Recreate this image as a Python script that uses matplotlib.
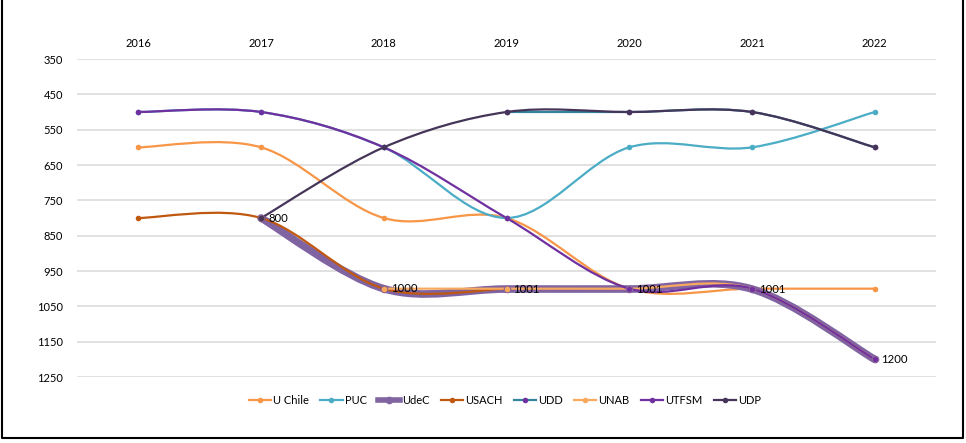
import numpy as np
import matplotlib
matplotlib.use('Agg')
import matplotlib.pyplot as plt
from matplotlib.path import Path
from matplotlib.patches import PathPatch
from matplotlib.lines import Line2D

plt.rcParams['font.family'] = ['Lato', 'DejaVu Sans']

years = [2016, 2017, 2018, 2019, 2020, 2021, 2022]
nan = np.nan

# ranking values (lower = better, axis inverted)
u_chile = [600, 600, 800, 800, 1000, 1000, 1000]
puc     = [500, 500, 600, 800, 600, 600, 500]
udec    = [nan, 800, 1000, 1001, 1001, 1001, 1200]
usach   = [800, 800, 1000, 1000, nan, nan, nan]
udd     = [nan, nan, nan, 500, 500, 500, 600]
unab    = [nan, nan, 1000, 1000, 1000, 1000, 1200]
utfsm   = [500, 500, 600, 800, 1000, 1000, 1200]
udp     = [nan, 800, 600, 500, 500, 500, 600]

udec_labels = ['800', '1000', '1001', '1001', '1001', '1200']

# name, values, line colour, marker colour, line width
series = [
    ('U Chile', u_chile, '#F79646', '#F79646', 1.6),
    ('PUC',     puc,     '#4BACC6', '#4BACC6', 1.6),
    ('UdeC',    udec,    '#8064A2', '#8064A2', 5.5),
    ('USACH',   usach,   '#C0580F', '#C0580F', 1.6),
    ('UDD',     udd,     '#31859C', '#7030A0', 1.6),
    ('UNAB',    unab,    '#F9A95E', '#F9A95E', 1.6),
    ('UTFSM',   utfsm,   '#7030A0', '#7030A0', 1.6),
    ('UDP',     udp,     '#453659', '#453659', 1.6),
]


def smooth_path(xs, ys):
    # excel-like smoothed line: cubic bezier through the points
    pts = [np.array([x, y], float) for x, y in zip(xs, ys) if not np.isnan(y)]
    n = len(pts)
    verts = [pts[0]]
    codes = [Path.MOVETO]
    for i in range(n - 1):
        p0 = pts[i - 1] if i > 0 else pts[i]
        p1 = pts[i]
        p2 = pts[i + 1]
        p3 = pts[i + 2] if i + 2 < n else pts[i + 1]
        verts += [p1 + (p2 - p0) / 6, p2 - (p3 - p1) / 6, p2]
        codes += [Path.CURVE4] * 3
    return Path(verts, codes)


fig = plt.figure(figsize=(9.66, 4.43), dpi=100)
ax = fig.add_axes([77/966, 1 - 377/443, (936 - 77)/966, (377 - 59)/443])

handles = []
for name, vals, col, mcol, lw in series:
    vals = np.array(vals, float)
    ax.add_patch(PathPatch(smooth_path(years, vals), fill=False, edgecolor=col,
                           lw=lw, capstyle='round', joinstyle='round', zorder=3))
    ms = 5.5 if lw > 3 else 4
    ax.plot(years, vals, 'o', color=mcol, markersize=ms, markeredgewidth=0, zorder=4)
    handles.append(Line2D([], [], color=col, lw=min(lw, 4), marker='o', markersize=ms,
                          markerfacecolor=mcol, markeredgewidth=0))

udec_pts = [(x, y) for x, y in zip(years, udec) if not np.isnan(y)]
for (x, y), lab in zip(udec_pts, udec_labels):
    ax.annotate(lab, (x, y), xytext=(5, 0), textcoords='offset points',
                va='center', ha='left', fontsize=8.2, color='#000000', zorder=5)

ax.set_xlim(2015.5, 2022.5)
ax.set_ylim(1250, 350)
ax.set_yticks(np.arange(350, 1251, 100))
ax.set_xticks(years)
ax.xaxis.tick_top()
ax.tick_params(axis='both', length=0, labelsize=8, colors='#000000')
ax.tick_params(axis='x', pad=7.5)
ax.tick_params(axis='y', pad=10)
ax.grid(axis='y', color='#D9D9D9', lw=1.1)
ax.set_axisbelow(True)
for s in ax.spines.values():
    s.set_visible(False)

fig.legend(handles, [s[0] for s in series], loc='center', ncol=8, frameon=False,
           bbox_to_anchor=(505/966, 1 - 400/443), fontsize=8, handlelength=2.0,
           handletextpad=0.2, columnspacing=1.0)

# outer border of the picture
fig.add_artist(Line2D([2/966, 2/966, 963/966, 963/966], [1, 5/443, 5/443, 1],
                      transform=fig.transFigure, color='black', lw=1.5))

fig.savefig('out.png', dpi=100)
